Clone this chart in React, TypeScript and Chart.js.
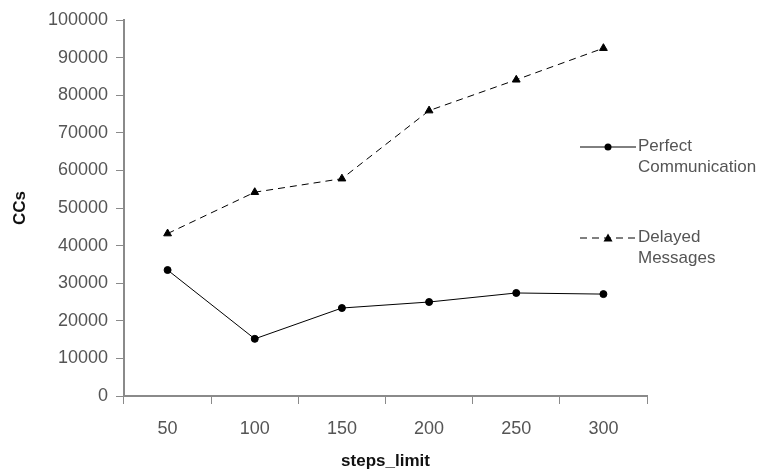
import React, { useEffect, useRef } from "react";
import { Chart, registerables } from "chart.js";

Chart.register(...registerables);

const categories = ["50", "100", "150", "200", "250", "300"];
const perfectCommunication = [33500, 15200, 23400, 25000, 27400, 27100];
const delayedMessages = [43200, 54200, 57800, 75900, 84100, 92500];
const seriesLabels = [["Perfect", "Communication"], ["Delayed", "Messages"]];
const yTitle = "CCs";
const xTitle = "steps_limit";

const FONT = "'Liberation Sans', Arial, sans-serif";
const TEXT = "#555555";
const AXIS = "#8a8a8a";
const DASH = [7, 5];

const legendPlugin = {
  id: "sideLegend",
  afterDraw(chart: any) {
    const ctx = chart.ctx;
    const items = [
      { y: 147, dash: [] as number[], style: "circle", radius: 3.5, label: seriesLabels[0] },
      { y: 238, dash: DASH, style: "triangle", radius: 4.5, label: seriesLabels[1] },
    ];
    ctx.save();
    for (const it of items) {
      ctx.strokeStyle = "#000";
      ctx.lineWidth = 1;
      ctx.setLineDash(it.dash);
      ctx.beginPath();
      ctx.moveTo(580, it.y);
      ctx.lineTo(636, it.y);
      ctx.stroke();
      ctx.setLineDash([]);
      ctx.fillStyle = "#000";
      ctx.beginPath();
      if (it.style === "circle") {
        ctx.arc(608, it.y, it.radius, 0, Math.PI * 2);
      } else {
        ctx.moveTo(608, it.y - 4.5);
        ctx.lineTo(612.5, it.y + 3.5);
        ctx.lineTo(603.5, it.y + 3.5);
        ctx.closePath();
      }
      ctx.fill();
      ctx.fillStyle = TEXT;
      ctx.font = `17px ${FONT}`;
      ctx.textBaseline = "middle";
      ctx.textAlign = "left";
      ctx.fillText(it.label[0], 638, it.y - 1);
      ctx.fillText(it.label[1], 638, it.y + 20);
    }
    ctx.restore();
  },
};

export default function App() {
  const ref = useRef<HTMLCanvasElement>(null);
  useEffect(() => {
    if (!ref.current) return;
    const chart = new Chart(ref.current, {
      type: "line",
      data: {
        labels: categories,
        datasets: [
          {
            label: seriesLabels[0].join(" "),
            data: perfectCommunication,
            borderColor: "#000",
            backgroundColor: "#000",
            borderWidth: 1,
            pointStyle: "circle",
            pointRadius: 3.5,
            tension: 0,
          },
          {
            label: seriesLabels[1].join(" "),
            data: delayedMessages,
            borderColor: "#000",
            backgroundColor: "#000",
            borderWidth: 1,
            borderDash: DASH,
            pointStyle: "triangle",
            pointRadius: 4.5,
            tension: 0,
          },
        ],
      },
      options: {
        animation: false,
        responsive: false,
        maintainAspectRatio: false,
        layout: { padding: { top: 20, right: 117, bottom: 0, left: 0 } },
        plugins: { legend: { display: false }, tooltip: { enabled: false } },
        scales: {
          x: {
            offset: true,
            grid: { offset: true, drawOnChartArea: false, tickLength: 8, color: AXIS, lineWidth: 1 },
            border: { color: AXIS, width: 2 },
            ticks: { color: TEXT, font: { family: FONT, size: 18 }, padding: 14, maxRotation: 0 },
            title: { display: true, text: xTitle, color: "#111", font: { family: FONT, size: 17, weight: "bold" }, padding: { top: 6, bottom: 2 } },
            afterFit: (s: any) => { s.height = 78; },
          },
          y: {
            min: 0,
            max: 100000,
            grid: { drawOnChartArea: false, tickLength: 8, color: AXIS },
            border: { color: AXIS, width: 2 },
            ticks: { stepSize: 10000, color: TEXT, font: { family: FONT, size: 18 }, padding: 8, callback: (v: any) => String(v) },
            title: { display: true, text: yTitle, color: "#111", font: { family: FONT, size: 17, weight: "bold" }, padding: { top: 10, bottom: 0 } },
            afterFit: (s: any) => { s.width = 124; },
          },
        },
      },
      plugins: [legendPlugin],
    });
    return () => chart.destroy();
  }, []);
  return (
    <div style={{ position: "fixed", left: 0, top: 0, width: 764, height: 474, background: "#fff" }}>
      <canvas ref={ref} width={764} height={474} style={{ width: 764, height: 474 }} />
    </div>
  );
}
